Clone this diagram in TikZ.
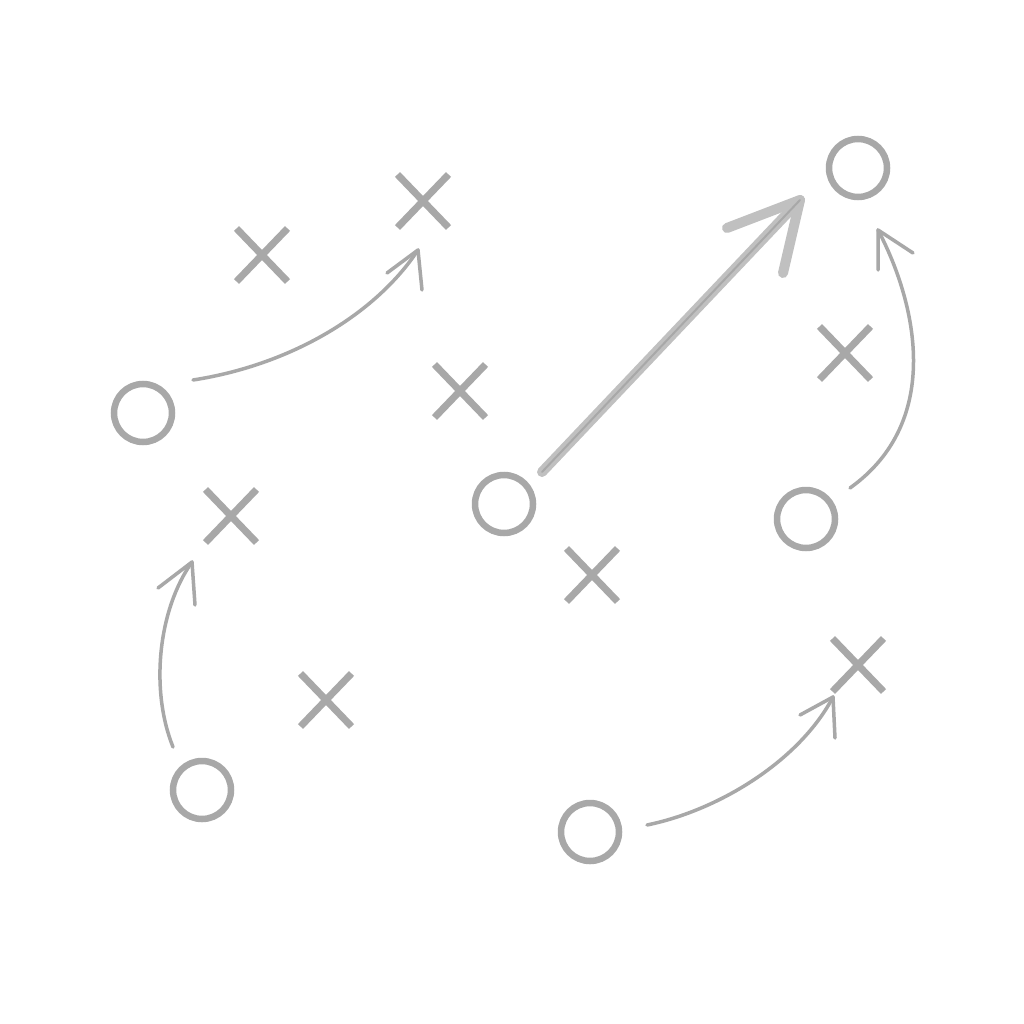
\documentclass[tikz,border=0pt]{standalone}
\usetikzlibrary{shapes.misc}
\definecolor{pencil}{RGB}{168,168,168}
\definecolor{pencillight}{RGB}{192,192,192}
\begin{document}
\begin{tikzpicture}[x=1pt,y=-1pt,
 ocirc/.style={circle, draw=pencil, line width=6.5pt, minimum size=58pt, inner sep=0pt},
 xmark/.style={cross out, draw=pencil, line width=7pt, minimum width=44pt, minimum height=46pt, inner sep=0pt},
 move/.style={draw=pencil, line width=3.5pt, line cap=round, line join=round},
 bigmove/.style={draw=pencillight, line width=10pt, line cap=round, line join=round}]
\useasboundingbox[fill=white] (0,0) rectangle (1024,1024);

% circles
\node[ocirc] (o1) at (143,413) {};
\node[ocirc] (o2) at (858,168) {};
\node[ocirc] (o3) at (504,504) {};
\node[ocirc] (o4) at (806,519) {};
\node[ocirc] (o5) at (202,790) {};
\node[ocirc] (o6) at (590,832) {};

% crosses
\node[xmark] (x1) at (262,255) {};
\node[xmark] (x2) at (423,201) {};
\node[xmark] (x3) at (460,391) {};
\node[xmark] (x4) at (231,516) {};
\node[xmark] (x5) at (845,353) {};
\node[xmark] (x6) at (592,575) {};
\node[xmark] (x7) at (326,700) {};
\node[xmark] (x8) at (858,665) {};

% arrow end points
\coordinate (aS) at (193,380); \coordinate (aT) at (418,250);
\coordinate (aL) at (387,273); \coordinate (aR) at (422,290);
\coordinate (bS) at (542,472); \coordinate (bT) at (800,200);
\coordinate (bL) at (727,228); \coordinate (bR) at (783,273);
\coordinate (cS) at (850,488); \coordinate (cT) at (878,230);
\coordinate (cL) at (878,270); \coordinate (cR) at (913,253);
\coordinate (dS) at (173,747); \coordinate (dT) at (192,562);
\coordinate (dL) at (158,588); \coordinate (dR) at (195,605);
\coordinate (eS) at (647,825); \coordinate (eT) at (833,697);
\coordinate (eL) at (800,715); \coordinate (eR) at (835,738);

% curved moves
\draw[move] (aS) .. controls (290,365) and (375,315) .. (aT);
\draw[move] (aL) -- (aT) -- (aR);
\draw[move] (cS) .. controls (945,420) and (915,300) .. (cT);
\draw[move] (cL) -- (cT) -- (cR);
\draw[move] (dS) .. controls (150,690) and (158,610) .. (dT);
\draw[move] (dL) -- (dT) -- (dR);
\draw[move] (eS) .. controls (720,810) and (800,760) .. (eT);
\draw[move] (eL) -- (eT) -- (eR);

% big move
\draw[bigmove] (bS) -- (bT);
\draw[bigmove] (bL) -- (bT) -- (bR);
\draw[draw=pencil, line width=2pt, line cap=round] (bS) -- (bT);
\end{tikzpicture}
\end{document}
